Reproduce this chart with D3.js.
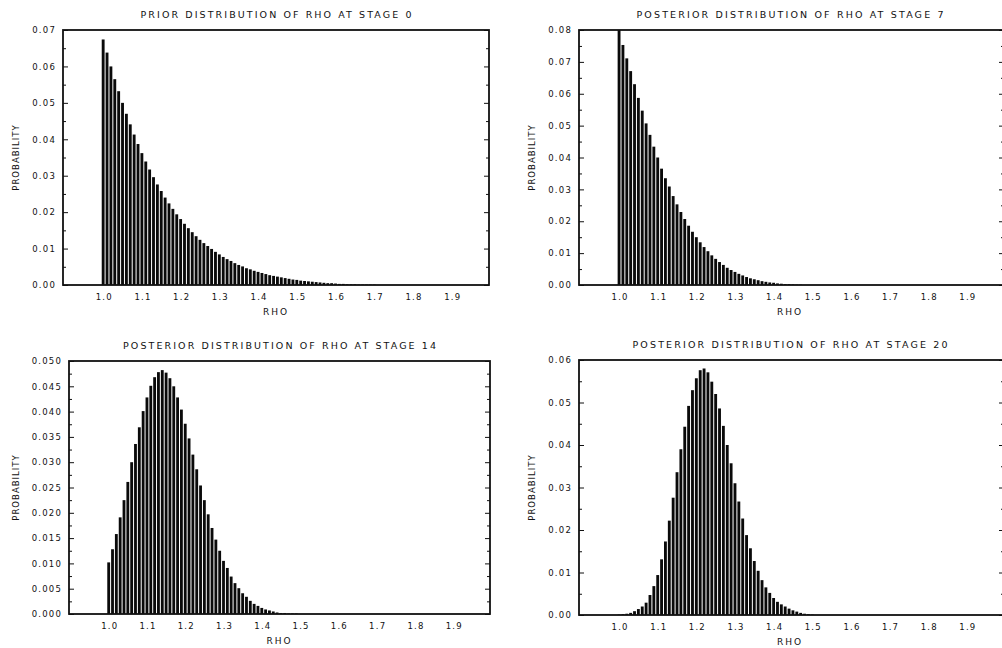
<!DOCTYPE html>
<html>
<head>
<meta charset="utf-8">
<script src="https://cdn.jsdelivr.net/npm/d3@7"></script>
<style>
  body { margin: 0; background: #fff; }
  text { font-family: "DejaVu Sans", sans-serif; fill: #111; }
</style>
</head>
<body>
<script>
// rho categories (bar positions)
var rho = [
  1.00,1.01,1.02,1.03,1.04,1.05,1.06,1.07,1.08,1.09,
  1.10,1.11,1.12,1.13,1.14,1.15,1.16,1.17,1.18,1.19,
  1.20,1.21,1.22,1.23,1.24,1.25,1.26,1.27,1.28,1.29,
  1.30,1.31,1.32,1.33,1.34,1.35,1.36,1.37,1.38,1.39,
  1.40,1.41,1.42,1.43,1.44,1.45,1.46,1.47,1.48,1.49,
  1.50,1.51,1.52,1.53,1.54,1.55,1.56,1.57,1.58,1.59,
  1.60,1.61,1.62,1.63,1.64,1.65,1.66,1.67,1.68,1.69,
  1.70,1.71,1.72,1.73,1.74,1.75,1.76,1.77,1.78,1.79,
  1.80,1.81,1.82,1.83,1.84,1.85,1.86,1.87,1.88,1.89,
  1.90,1.91,1.92,1.93,1.94,1.95,1.96,1.97,1.98,1.99
];

// probabilities, one per rho
var prior0 = [
  .0674,.0638,.0600,.0565,.0532,.0500,.0470,.0441,.0413,.0387,
  .0362,.0339,.0317,.0296,.0276,.0258,.0240,.0224,.0209,.0194,
  .0181,.0168,.0156,.0145,.0134,.0124,.0115,.0107,.0099,.0091,
  .0084,.0077,.0071,.0066,.0060,.0055,.0051,.0046,.0043,.0039,
  .0036,.0033,.0030,.0027,.0025,.0023,.0021,.0019,.0017,.0015,
  .0014,.0012,.0011,.0010,.0009,.0008,.0007,.0006,.0005,.0005,
  .0004,.0003,.0003,.0002,.0002,.0002,.0001,.0001,.0001,.0001,
  .0001,0,0,0,0,0,0,0,0,0,
  0,0,0,0,0,0,0,0,0,0,
  0,0,0,0,0,0,0,0,0,0
];

var post7 = [
  .0800,.0753,.0711,.0671,.0630,.0587,.0547,.0507,.0471,.0434,
  .0400,.0365,.0335,.0309,.0279,.0253,.0229,.0207,.0186,.0167,
  .0150,.0134,.0119,.0106,.0093,.0082,.0072,.0063,.0054,.0047,
  .0041,.0035,.0030,.0025,.0021,.0018,.0015,.0012,.0010,.0008,
  .0007,.0005,.0004,.0003,.0003,.0002,.0001,.0001,0,0,
  0,0,0,0,0,0,0,0,0,0,
  0,0,0,0,0,0,0,0,0,0,
  0,0,0,0,0,0,0,0,0,0,
  0,0,0,0,0,0,0,0,0,0,
  0,0,0,0,0,0,0,0,0,0
];

var post14 = [
  .0102,.0128,.0158,.0191,.0225,.0261,.0300,.0336,.0369,.0401,
  .0428,.0451,.0468,.0478,.0482,.0477,.0466,.0450,.0428,.0404,
  .0376,.0347,.0315,.0286,.0254,.0225,.0197,.0170,.0147,.0125,
  .0105,.0091,.0074,.0061,.0051,.0041,.0034,.0026,.0020,.0016,
  .0012,.0009,.0007,.0005,.0003,.0002,.0002,.0001,.0001,.0001,
  0,0,0,0,0,0,0,0,0,0,
  0,0,0,0,0,0,0,0,0,0,
  0,0,0,0,0,0,0,0,0,0,
  0,0,0,0,0,0,0,0,0,0,
  0,0,0,0,0,0,0,0,0,0
];

var post20 = [
  .0001,.0002,.0003,.0005,.0009,.0014,.0020,.0029,.0047,.0068,
  .0094,.0131,.0173,.0222,.0276,.0336,.0390,.0443,.0492,.0529,
  .0557,.0576,.0580,.0571,.0549,.0520,.0486,.0445,.0400,.0357,
  .0310,.0267,.0227,.0188,.0157,.0127,.0104,.0082,.0065,.0052,
  .0040,.0031,.0025,.0020,.0015,.0011,.0008,.0005,.0003,.0002,
  .0001,0,0,0,0,0,0,0,0,0,
  0,0,0,0,0,0,0,0,0,0,
  0,0,0,0,0,0,0,0,0,0,
  0,0,0,0,0,0,0,0,0,0,
  0,0,0,0,0,0,0,0,0,0
];

// tick labels
var xTicks = [1.0,1.1,1.2,1.3,1.4,1.5,1.6,1.7,1.8,1.9];
var yTicks0  = [0,0.01,0.02,0.03,0.04,0.05,0.06,0.07];
var yTicks7  = [0,0.01,0.02,0.03,0.04,0.05,0.06,0.07,0.08];
var yTicks14 = [0,0.005,0.010,0.015,0.020,0.025,0.030,0.035,0.040,0.045,0.050];
var yTicks20 = [0,0.01,0.02,0.03,0.04,0.05,0.06];

var titles = [
  'PRIOR DISTRIBUTION OF RHO AT STAGE 0',
  'POSTERIOR DISTRIBUTION OF RHO AT STAGE 7',
  'POSTERIOR DISTRIBUTION OF RHO AT STAGE 14',
  'POSTERIOR DISTRIBUTION OF RHO AT STAGE 20'
];

var svg = d3.select('body').append('svg')
    .attr('width', 1002)
    .attr('height', 648);

// layout of the four panels
var panels = [
  {values: prior0, yTicks: yTicks0,  fmt: '.2f', title: titles[0], titleW: 271,
   left: 63,  top: 30,  right: 489,  bottom: 285, ylabX: 16},
  {values: post7,  yTicks: yTicks7,  fmt: '.2f', title: titles[1], titleW: 307,
   left: 579, top: 30,  right: 1004, bottom: 285, ylabX: 532},
  {values: post14, yTicks: yTicks14, fmt: '.3f', title: titles[2], titleW: 313,
   left: 69,  top: 361, right: 490,  bottom: 614, ylabX: 16},
  {values: post20, yTicks: yTicks20, fmt: '.2f', title: titles[3], titleW: 315,
   left: 579, top: 360, right: 1004, bottom: 615, ylabX: 532}
];

panels.forEach(drawPanel);

function drawPanel(p, i) {
    var g = svg.append('g');

    var x = d3.scaleLinear().domain([0.9, 2.0]).range([p.left, p.right]);
    var yMax = p.yTicks[p.yTicks.length - 1];
    var y = d3.scaleLinear().domain([0, yMax]).range([p.bottom, p.top]);

    var step = x(1.01) - x(1.00);
    var barW = step * 0.74;

    // bars
    g.append('g').selectAll('rect').data(rho)
        .enter().append('rect')
        .attr('x', function(d) { return x(d); })
        .attr('y', function(d, k) { return y(p.values[k]); })
        .attr('width', barW)
        .attr('height', function(d, k) { return p.bottom - y(p.values[k]); })
        .attr('fill', '#0a0a0a');

    // y ticks on both sides, pointing inward
    var minor = [];
    for (var k = 0; k < p.yTicks.length - 1; k++) {
        minor.push((p.yTicks[k] + p.yTicks[k + 1]) / 2);
    }
    var left = d3.axisLeft(y).tickValues(p.yTicks).tickSize(-5).tickFormat(d3.format(p.fmt)).tickPadding(7);
    var right = d3.axisRight(y).tickValues(p.yTicks).tickSize(-5).tickFormat('');
    var leftMinor = d3.axisLeft(y).tickValues(minor).tickSize(-3).tickFormat('');
    var rightMinor = d3.axisRight(y).tickValues(minor).tickSize(-3).tickFormat('');

    g.append('g').attr('transform', 'translate(' + p.left + ',0)').call(left);
    g.append('g').attr('transform', 'translate(' + p.left + ',0)').call(leftMinor);
    g.append('g').attr('transform', 'translate(' + p.right + ',0)').call(right);
    g.append('g').attr('transform', 'translate(' + p.right + ',0)').call(rightMinor);

    // x axis labels
    var xa = d3.axisBottom(x).tickValues(xTicks).tickSize(0).tickFormat(d3.format('.1f')).tickPadding(9);
    var gx = g.append('g').attr('transform', 'translate(0,' + p.bottom + ')').call(xa);

    g.selectAll('.domain').remove();
    g.selectAll('.tick line').attr('stroke', '#111').attr('stroke-width', 1);
    g.selectAll('.tick text')
        .attr('font-size', 8.5)
        .attr('letter-spacing', 1.2)
        .attr('fill', '#111')
        .style('font-family', '"DejaVu Sans", sans-serif');
    gx.selectAll('.tick text').attr('dx', 2);

    // frame
    g.append('rect')
        .attr('x', p.left)
        .attr('y', p.top)
        .attr('width', p.right - p.left)
        .attr('height', p.bottom - p.top)
        .attr('fill', 'none')
        .attr('stroke', '#111')
        .attr('stroke-width', 1.8);

    // title
    var cx = (p.left + Math.min(p.right, 1001)) / 2;
    g.append('text')
        .attr('x', cx - p.titleW / 2)
        .attr('y', p.top - 12.5)
        .attr('font-size', 9.5)
        .attr('textLength', p.titleW)
        .attr('lengthAdjust', 'spacing')
        .text(p.title);

    // axis titles
    g.append('text')
        .attr('x', cx)
        .attr('y', p.bottom + 30)
        .attr('text-anchor', 'middle')
        .attr('font-size', 9)
        .attr('letter-spacing', 2)
        .text('RHO');

    g.append('text')
        .attr('transform', 'translate(' + (p.ylabX + 3) + ',' + ((p.top + p.bottom) / 2) + ') rotate(-90)')
        .attr('text-anchor', 'middle')
        .attr('font-size', 8.5)
        .attr('letter-spacing', 1)
        .text('PROBABILITY');
}
</script>
</body>
</html>
